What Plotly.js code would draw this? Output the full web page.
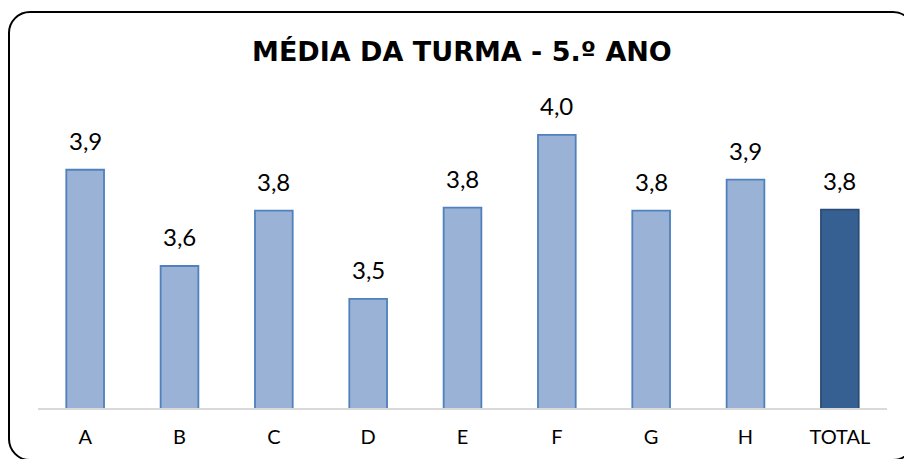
<!DOCTYPE html>
<html>
<head>
<meta charset="utf-8">
<script src="https://cdn.plot.ly/plotly-3.0.1.min.js"></script>
<style>
  html, body { margin: 0; padding: 0; background: #fff; overflow: hidden; }
  #wrap { position: relative; width: 904px; height: 459px; overflow: hidden; }
  #chart { position: absolute; left: 0; top: 0; width: 904px; height: 459px; }
  #frame { position: absolute; left: 8px; top: 11px; width: 907px; height: 450px;
           box-sizing: border-box; border: 2px solid #000; border-radius: 22px;
           pointer-events: none; z-index: 5; }
</style>
</head>
<body>
<div id="wrap">
  <div id="chart"></div>
  <div id="frame"></div>
</div>
<script>
const categories = ['A', 'B', 'C', 'D', 'E', 'F', 'G', 'H', 'TOTAL'];
const values = [3.898, 3.616, 3.778, 3.520, 3.787, 4.000, 3.778, 3.869, 3.781];
const titleText = 'MÉDIA DA TURMA - 5.º ANO';

const fillColors = categories.map(c => c === 'TOTAL' ? '#376092' : '#9bb2d7');
const lineColors = categories.map(c => c === 'TOTAL' ? '#2b4c74' : '#4f81bd');
const labels = values.map(v => v.toFixed(1).replace('.', ','));

const trace = {
  type: 'bar',
  x: categories,
  y: values,
  width: 0.40,
  marker: { color: fillColors, line: { color: lineColors, width: 1.8 } },
  hoverinfo: 'skip'
};

const annotations = categories.map((c, i) => ({
  x: c, y: values[i], xref: 'x', yref: 'y',
  text: labels[i], showarrow: false,
  yanchor: 'bottom', yshift: 13,
  font: { family: 'Lato, "Open Sans", sans-serif', size: 24, color: '#000' }
}));

const layout = {
  width: 904, height: 459,
  margin: { l: 38, r: 17, t: 80, b: 51 },
  paper_bgcolor: 'rgba(0,0,0,0)',
  plot_bgcolor: 'rgba(0,0,0,0)',
  title: {
    text: '<b>' + titleText + '</b>',
    x: 0.511, xanchor: 'center', y: 0.888, yanchor: 'middle',
    xref: 'container', yref: 'container',
    font: { family: '"DejaVu Sans", sans-serif', size: 27, color: '#000' }
  },
  xaxis: {
    type: 'category',
    showline: true, linecolor: '#d9d9d9', linewidth: 1.5,
    ticks: '', showgrid: false, zeroline: false,
    tickfont: { family: 'Lato, "Open Sans", sans-serif', size: 20, color: '#000' },
    ticklabelstandoff: 10
  },
  yaxis: {
    range: [3.2, 4.161],
    visible: false, showgrid: false, zeroline: false
  },
  annotations: annotations,
  showlegend: false,
  bargap: 0.6
};

Plotly.newPlot('chart', [trace], layout, { displayModeBar: false, staticPlot: true });
</script>
</body>
</html>
